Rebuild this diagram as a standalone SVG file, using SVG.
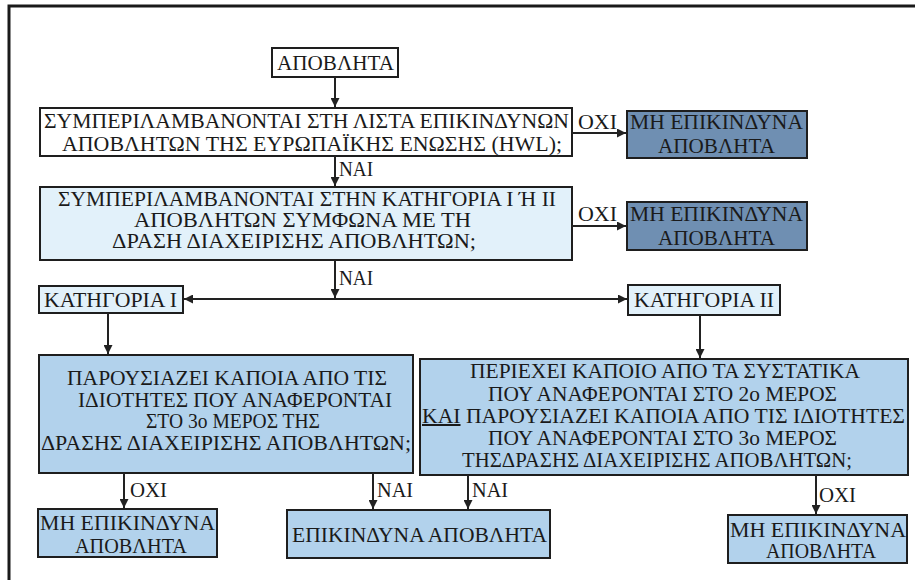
<svg xmlns="http://www.w3.org/2000/svg" width="915" height="580" viewBox="0 0 915 580">
<defs>
<marker id="ah" viewBox="0 0 10 10" refX="10" refY="5" markerWidth="10" markerHeight="9" markerUnits="userSpaceOnUse" orient="auto-start-reverse">
<path d="M0,0 L10,5 L0,10 z" fill="#222"/>
</marker>
<style>
text{font-family:"Liberation Serif","DejaVu Serif",serif;font-size:20px;fill:#1a1a1a}
.box{stroke:#1e1e1e;stroke-width:2}
.w{fill:#ffffff}
.pale{fill:#e2f1fa}
.lb{fill:#b2d2ec}
.dk{fill:#6f8fb2}
.con path{fill:none;stroke:#222;stroke-width:2;marker-end:url(#ah)}
</style>
</defs>
<rect width="915" height="580" fill="#ffffff"/>
<path d="M9,580 V6 H915" fill="none" stroke="#1a1a1a" stroke-width="3"/>

<g id="n-apovlita">
<rect class="box w" x="272" y="48" width="126" height="29"/>
<text x="277" y="70" textLength="117" lengthAdjust="spacingAndGlyphs">ΑΠΟΒΛΗΤΑ</text>
</g>

<g id="n-hwl">
<rect class="box w" x="40" y="108" width="532" height="48"/>
<text x="44" y="128" textLength="525" lengthAdjust="spacingAndGlyphs">ΣΥΜΠΕΡΙΛΑΜΒΑΝΟΝΤΑΙ ΣΤΗ ΛΙΣΤΑ ΕΠΙΚΙΝΔΥΝΩΝ</text>
<text x="62" y="151" textLength="500" lengthAdjust="spacingAndGlyphs">ΑΠΟΒΛΗΤΩΝ ΤΗΣ ΕΥΡΩΠΑΪΚΗΣ ΕΝΩΣΗΣ (HWL);</text>
</g>

<g id="n-mi1">
<rect class="box dk" x="627" y="111" width="180" height="47"/>
<text x="630" y="129" textLength="173" lengthAdjust="spacingAndGlyphs">ΜΗ ΕΠΙΚΙΝΔΥΝΑ</text>
<text x="658" y="153" textLength="117" lengthAdjust="spacingAndGlyphs">ΑΠΟΒΛΗΤΑ</text>
</g>

<g id="n-kat12">
<rect class="box pale" x="40" y="187" width="532" height="73"/>
<text x="58" y="206" textLength="498" lengthAdjust="spacingAndGlyphs">ΣΥΜΠΕΡΙΛΑΜΒΑΝΟΝΤΑΙ ΣΤΗΝ ΚΑΤΗΓΟΡΙΑ Ι Ή ΙΙ</text>
<text x="134" y="227" textLength="337" lengthAdjust="spacingAndGlyphs">ΑΠΟΒΛΗΤΩΝ ΣΥΜΦΩΝΑ ΜΕ ΤΗ</text>
<text x="112" y="248" textLength="364" lengthAdjust="spacingAndGlyphs">ΔΡΑΣΗ ΔΙΑΧΕΙΡΙΣΗΣ ΑΠΟΒΛΗΤΩΝ;</text>
</g>

<g id="n-mi2">
<rect class="box dk" x="627" y="202" width="180" height="48"/>
<text x="630" y="221" textLength="173" lengthAdjust="spacingAndGlyphs">ΜΗ ΕΠΙΚΙΝΔΥΝΑ</text>
<text x="658" y="245" textLength="117" lengthAdjust="spacingAndGlyphs">ΑΠΟΒΛΗΤΑ</text>
</g>

<g id="n-katI">
<rect class="box pale" x="39" y="286" width="144" height="27"/>
<text x="44" y="307" textLength="133" lengthAdjust="spacingAndGlyphs">ΚΑΤΗΓΟΡΙΑ  Ι</text>
</g>

<g id="n-katII">
<rect class="box pale" x="628" y="285" width="152" height="30"/>
<text x="634" y="307" textLength="140" lengthAdjust="spacingAndGlyphs">ΚΑΤΗΓΟΡΙΑ  ΙΙ</text>
</g>

<g id="n-q1">
<rect class="box lb" x="39" y="355" width="374" height="118"/>
<text x="67" y="385" textLength="320" lengthAdjust="spacingAndGlyphs">ΠΑΡΟΥΣΙΑΖΕΙ ΚΑΠΟΙΑ ΑΠΟ ΤΙΣ</text>
<text x="78" y="407" textLength="314" lengthAdjust="spacingAndGlyphs">ΙΔΙΟΤΗΤΕΣ ΠΟΥ ΑΝΑΦΕΡΟΝΤΑΙ</text>
<text x="146" y="428" textLength="174" lengthAdjust="spacingAndGlyphs">ΣΤΟ 3ο ΜΕΡΟΣ ΤΗΣ</text>
<text x="41" y="450" textLength="370" lengthAdjust="spacingAndGlyphs">ΔΡΑΣΗΣ ΔΙΑΧΕΙΡΙΣΗΣ ΑΠΟΒΛΗΤΩΝ;</text>
</g>

<g id="n-q2">
<rect class="box lb" x="420" y="359" width="488" height="116"/>
<text x="470" y="378" textLength="390" lengthAdjust="spacingAndGlyphs">ΠΕΡΙΕΧΕΙ ΚΑΠΟΙΟ ΑΠΟ ΤΑ ΣΥΣΤΑΤΙΚΑ</text>
<text x="488" y="401" textLength="349" lengthAdjust="spacingAndGlyphs">ΠΟΥ ΑΝΑΦΕΡΟΝΤΑΙ ΣΤΟ 2ο ΜΕΡΟΣ</text>
<text x="422" y="423" textLength="483" lengthAdjust="spacingAndGlyphs"><tspan text-decoration="underline">ΚΑΙ</tspan> ΠΑΡΟΥΣΙΑΖΕΙ ΚΑΠΟΙΑ ΑΠΟ ΤΙΣ ΙΔΙΟΤΗΤΕΣ</text>
<text x="488" y="445" textLength="349" lengthAdjust="spacingAndGlyphs">ΠΟΥ ΑΝΑΦΕΡΟΝΤΑΙ ΣΤΟ 3ο ΜΕΡΟΣ</text>
<text x="462" y="467" textLength="390" lengthAdjust="spacingAndGlyphs">ΤΗΣΔΡΑΣΗΣ ΔΙΑΧΕΙΡΙΣΗΣ ΑΠΟΒΛΗΤΩΝ;</text>
</g>

<g id="n-mi3">
<rect class="box lb" x="38" y="509" width="179" height="48"/>
<text x="40" y="530" textLength="175" lengthAdjust="spacingAndGlyphs">ΜΗ ΕΠΙΚΙΝΔΥΝΑ</text>
<text x="75" y="553" textLength="112" lengthAdjust="spacingAndGlyphs">ΑΠΟΒΛΗΤΑ</text>
</g>

<g id="n-epik">
<rect class="box lb" x="287" y="510" width="263" height="48"/>
<text x="292" y="542" textLength="255" lengthAdjust="spacingAndGlyphs">ΕΠΙΚΙΝΔΥΝΑ ΑΠΟΒΛΗΤΑ</text>
</g>

<g id="n-mi4">
<rect class="box lb" x="728" y="515" width="179" height="48"/>
<text x="730" y="537" textLength="176" lengthAdjust="spacingAndGlyphs">ΜΗ ΕΠΙΚΙΝΔΥΝΑ</text>
<text x="766" y="558" textLength="110" lengthAdjust="spacingAndGlyphs">ΑΠΟΒΛΗΤΑ</text>
</g>

<g id="connectors" class="con">
<path d="M335,77 V107"/>
<path d="M572,133 H626"/>
<path d="M335,156 V186"/>
<path d="M572,226 H626"/>
<path d="M335,260 V298"/>
<path d="M335,299 H184"/>
<path d="M335,299 H627"/>
<path d="M108,313 V354"/>
<path d="M700,315 V358"/>
<path d="M124,473 V508"/>
<path d="M373,473 V509"/>
<path d="M468,475 V509"/>
<path d="M816,475 V514"/>
</g>

<g id="labels">
<text x="578" y="129" textLength="39" lengthAdjust="spacingAndGlyphs">ΟΧΙ</text>
<text x="578" y="221" textLength="39" lengthAdjust="spacingAndGlyphs">ΟΧΙ</text>
<text x="339" y="176" textLength="34" lengthAdjust="spacingAndGlyphs">ΝΑΙ</text>
<text x="339" y="285" textLength="34" lengthAdjust="spacingAndGlyphs">ΝΑΙ</text>
<text x="130" y="497" textLength="37" lengthAdjust="spacingAndGlyphs">ΟΧΙ</text>
<text x="377" y="497" textLength="36" lengthAdjust="spacingAndGlyphs">ΝΑΙ</text>
<text x="472" y="497" textLength="36" lengthAdjust="spacingAndGlyphs">ΝΑΙ</text>
<text x="819" y="502" textLength="37" lengthAdjust="spacingAndGlyphs">ΟΧΙ</text>
</g>
</svg>
